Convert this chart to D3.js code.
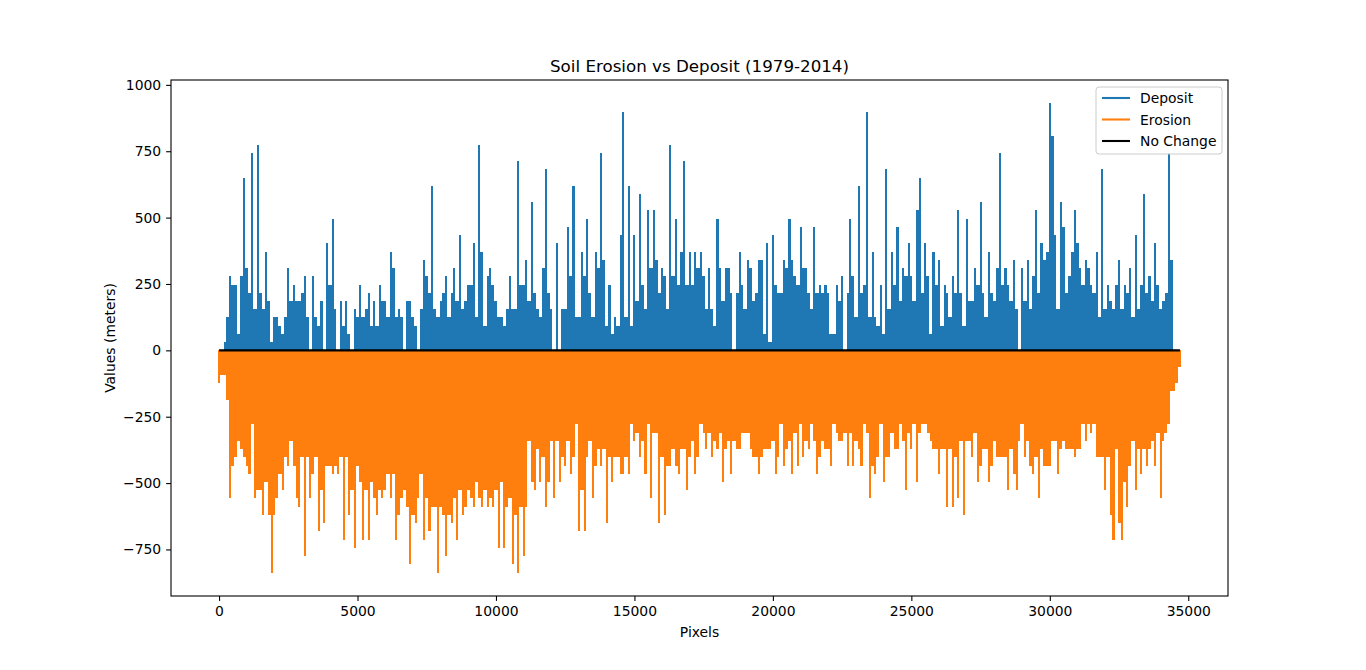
<!DOCTYPE html>
<html>
<head>
<meta charset="utf-8">
<script src="https://cdn.jsdelivr.net/npm/d3@7"></script>
<style>
  body { margin: 0; background: #fff; }
  svg { display: block; font-family: "DejaVu Sans", sans-serif; }
</style>
</head>
<body>
<div id="chart"></div>
<script>
// one value per 100 pixels along the profile (extreme value in that stretch), meters
const step = 100;

const deposit = [
  0,0,31,124,279,248,248,62,279,651,310,217,744,155,775,217,155,372,186,31,
  124,124,93,62,124,310,186,248,186,186,217,279,124,0,279,124,93,186,0,403,
  248,496,155,0,186,93,186,62,0,155,124,248,124,155,217,93,186,93,248,186,
  186,124,372,310,124,155,124,0,186,186,124,93,0,155,341,279,217,620,155,124,
  186,217,279,124,217,310,186,434,155,186,248,248,403,124,775,372,93,279,310,248,
  186,124,124,93,155,279,155,155,713,248,248,341,186,558,217,155,124,310,682,217,
  155,0,403,0,155,155,465,279,620,124,124,372,279,496,217,124,372,310,744,341,
  93,248,62,124,93,434,899,124,620,93,434,186,589,248,155,527,310,527,341,217,
  310,279,155,775,279,496,248,372,713,248,372,248,372,310,372,279,155,310,155,93,
  496,310,186,310,310,217,0,217,372,248,155,341,310,186,217,341,341,62,403,31,
  434,248,217,217,341,310,496,341,279,248,465,310,310,217,155,465,217,248,217,248,
  217,62,62,248,186,279,0,217,496,279,124,620,217,248,899,124,372,124,93,248,
  62,682,155,372,248,465,186,310,279,403,279,186,527,651,217,403,279,62,372,248,
  341,93,248,217,124,279,217,527,217,93,496,186,186,310,248,558,217,124,372,217,
  186,310,744,248,310,248,186,341,155,0,310,186,341,155,279,527,217,403,341,372,
  930,806,434,155,558,465,217,279,372,527,403,310,248,341,310,248,217,372,124,682,
  155,248,186,155,248,341,155,248,217,310,124,434,155,248,589,217,279,186,403,248,
  155,186,217,744,341,0,0,0
];

const erosion = [
  -124,-93,-93,-186,-558,-434,-403,-341,-372,-403,-434,-465,-279,-558,-527,-527,-620,-496,-620,-837,
  -620,-558,-465,-527,-403,-434,-341,-434,-558,-589,-403,-775,-403,-558,-465,-403,-682,-527,-651,-434,
  -434,-465,-434,-465,-403,-713,-403,-620,-527,-744,-434,-496,-713,-527,-713,-496,-558,-620,-527,-558,
  -527,-465,-558,-465,-713,-620,-558,-527,-589,-806,-620,-651,-558,-465,-713,-558,-682,-589,-589,-837,
  -589,-620,-775,-620,-651,-558,-713,-527,-620,-589,-527,-558,-589,-496,-558,-589,-527,-589,-558,-589,
  -527,-744,-496,-744,-589,-558,-806,-620,-837,-589,-775,-589,-341,-496,-527,-372,-496,-403,-589,-496,
  -341,-558,-341,-496,-403,-434,-341,-465,-403,-279,-682,-527,-682,-403,-341,-558,-434,-372,-434,-372,
  -651,-403,-496,-403,-403,-465,-465,-403,-465,-279,-341,-310,-403,-341,-465,-279,-558,-310,-310,-651,
  -403,-620,-434,-434,-372,-434,-465,-372,-372,-527,-403,-341,-465,-403,-279,-310,-372,-310,-403,-341,
  -372,-310,-496,-372,-341,-465,-341,-372,-372,-310,-310,-310,-372,-403,-403,-465,-403,-372,-372,-372,
  -341,-465,-403,-279,-434,-372,-341,-465,-310,-434,-279,-403,-341,-372,-279,-341,-465,-403,-341,-372,
  -372,-434,-279,-310,-341,-341,-310,-434,-310,-434,-341,-372,-434,-279,-310,-558,-434,-465,-403,-279,
  -496,-403,-403,-310,-372,-372,-279,-341,-527,-310,-372,-279,-496,-310,-279,-279,-310,-341,-372,-372,
  -465,-372,-372,-589,-372,-589,-403,-558,-341,-620,-341,-341,-403,-310,-496,-434,-372,-372,-496,-434,
  -341,-403,-403,-403,-403,-527,-372,-465,-527,-341,-279,-403,-341,-434,-465,-403,-558,-372,-434,-434,
  -434,-341,-341,-465,-372,-341,-372,-372,-372,-403,-372,-372,-279,-341,-279,-310,-279,-403,-403,-403,
  -527,-403,-620,-713,-372,-651,-713,-496,-589,-434,-341,-527,-372,-465,-372,-434,-372,-341,-434,-310,
  -558,-341,-310,-279,-155,-155,-124,-62
];

const xTicks = [0, 5000, 10000, 15000, 20000, 25000, 30000, 35000];
const yTicks = [-750, -500, -250, 0, 250, 500, 750, 1000];
const seriesNames = ["Deposit", "Erosion", "No Change"];
const seriesColors = ["#1f77b4", "#ff7f0e", "#000000"];

const width = 1366, height = 670;
const margin = { top: 80, right: 138, bottom: 74, left: 171 };

const svg = d3.select("#chart").append("svg")
  .attr("width", width)
  .attr("height", height);

// matplotlib style 5% padding on both axes
const xMax = (deposit.length - 1) * step;
const xPad = xMax * 0.05;
const yMin = d3.min(erosion), yMax = d3.max(deposit);
const yPad = (yMax - yMin) * 0.05;

const x = d3.scaleLinear()
  .domain([-xPad, xMax + xPad])
  .range([margin.left, width - margin.right]);

const y = d3.scaleLinear()
  .domain([yMin - yPad, yMax + yPad])
  .range([height - margin.bottom, margin.top]);

const plot = svg.append("g");

plot.append("defs").append("clipPath").attr("id", "clip")
  .append("rect")
  .attr("x", margin.left).attr("y", margin.top)
  .attr("width", width - margin.left - margin.right)
  .attr("height", height - margin.top - margin.bottom);

const marks = plot.append("g").attr("clip-path", "url(#clip)");

const lineWidth = 2.1; // matplotlib 1.5pt line

// a dense line looks like a spike at every sample, with the span between two
// samples filled up to the shallower of the pair
function drawSeries(values, color) {
  const g = marks.append("g").attr("shape-rendering", "crispEdges");

  const pairs = d3.pairs(values.map((v, i) => ({ i, v })));
  g.selectAll("rect.span")
    .data(pairs)
    .enter()
    .append("rect")
    .attr("class", "span")
    .attr("x", (d) => x(d[0].i * step))
    .attr("width", (d) => x(d[1].i * step) - x(d[0].i * step))
    .attr("y", (d) => {
      const m = Math.abs(d[0].v) < Math.abs(d[1].v) ? d[0].v : d[1].v;
      return Math.min(y(m), y(0));
    })
    .attr("height", (d) => {
      const m = Math.abs(d[0].v) < Math.abs(d[1].v) ? d[0].v : d[1].v;
      return Math.abs(y(m) - y(0));
    })
    .attr("fill", color);

  g.selectAll("rect.spike")
    .data(values)
    .enter()
    .append("rect")
    .attr("class", "spike")
    .attr("x", (d, i) => x(i * step) - lineWidth / 2)
    .attr("width", lineWidth)
    .attr("y", (d) => Math.min(y(d), y(0)))
    .attr("height", (d) => Math.abs(y(d) - y(0)))
    .attr("fill", color);
}

drawSeries(deposit, seriesColors[0]);
drawSeries(erosion, seriesColors[1]);

// no change line along zero
marks.append("line")
  .attr("x1", x(0))
  .attr("x2", x(xMax))
  .attr("y1", y(0))
  .attr("y2", y(0))
  .attr("stroke", seriesColors[2])
  .attr("stroke-width", lineWidth);

// axes
const fmt = (d) => (d < 0 ? "\u2212" + Math.abs(d) : String(d));

const xAxis = svg.append("g")
  .attr("transform", `translate(0,${height - margin.bottom})`)
  .call(d3.axisBottom(x).tickValues(xTicks).tickFormat(fmt).tickSize(4.9).tickPadding(4.9));

const yAxis = svg.append("g")
  .attr("transform", `translate(${margin.left},0)`)
  .call(d3.axisLeft(y).tickValues(yTicks).tickFormat(fmt).tickSize(4.9).tickPadding(4.9));

[xAxis, yAxis].forEach((a) => {
  a.select(".domain").remove();
  a.selectAll(".tick line").attr("stroke", "#000").attr("stroke-width", 1.1);
  a.selectAll(".tick text")
    .attr("fill", "#000")
    .style("font-family", "DejaVu Sans, sans-serif")
    .style("font-size", "13.9px");
});

// frame
svg.append("rect")
  .attr("x", margin.left)
  .attr("y", margin.top)
  .attr("width", width - margin.left - margin.right)
  .attr("height", height - margin.top - margin.bottom)
  .attr("fill", "none")
  .attr("stroke", "#000")
  .attr("stroke-width", 1.1);

// title and labels
svg.append("text")
  .attr("x", (margin.left + width - margin.right) / 2)
  .attr("y", 72)
  .attr("text-anchor", "middle")
  .style("font-size", "16.7px")
  .text("Soil Erosion vs Deposit (1979-2014)");

svg.append("text")
  .attr("x", (margin.left + width - margin.right) / 2)
  .attr("y", 637)
  .attr("text-anchor", "middle")
  .style("font-size", "13.9px")
  .text("Pixels");

svg.append("text")
  .attr("transform", `translate(115,${(margin.top + height - margin.bottom) / 2}) rotate(-90)`)
  .attr("text-anchor", "middle")
  .style("font-size", "13.9px")
  .text("Values (meters)");

// legend
const lx = 1096, ly = 87;
const legend = svg.append("g");
legend.append("rect")
  .attr("x", lx).attr("y", ly)
  .attr("width", 126).attr("height", 67)
  .attr("rx", 3)
  .attr("fill", "#fff").attr("fill-opacity", 0.8)
  .attr("stroke", "#cccccc").attr("stroke-width", 1);

seriesNames.forEach((name, i) => {
  const cy = ly + 11 + i * 21.5;
  legend.append("line")
    .attr("x1", lx + 6).attr("x2", lx + 34)
    .attr("y1", cy).attr("y2", cy)
    .attr("stroke", seriesColors[i])
    .attr("stroke-width", lineWidth);
  legend.append("text")
    .attr("x", lx + 44)
    .attr("y", cy + 5)
    .style("font-size", "13.9px")
    .text(name);
});
</script>
</body>
</html>
